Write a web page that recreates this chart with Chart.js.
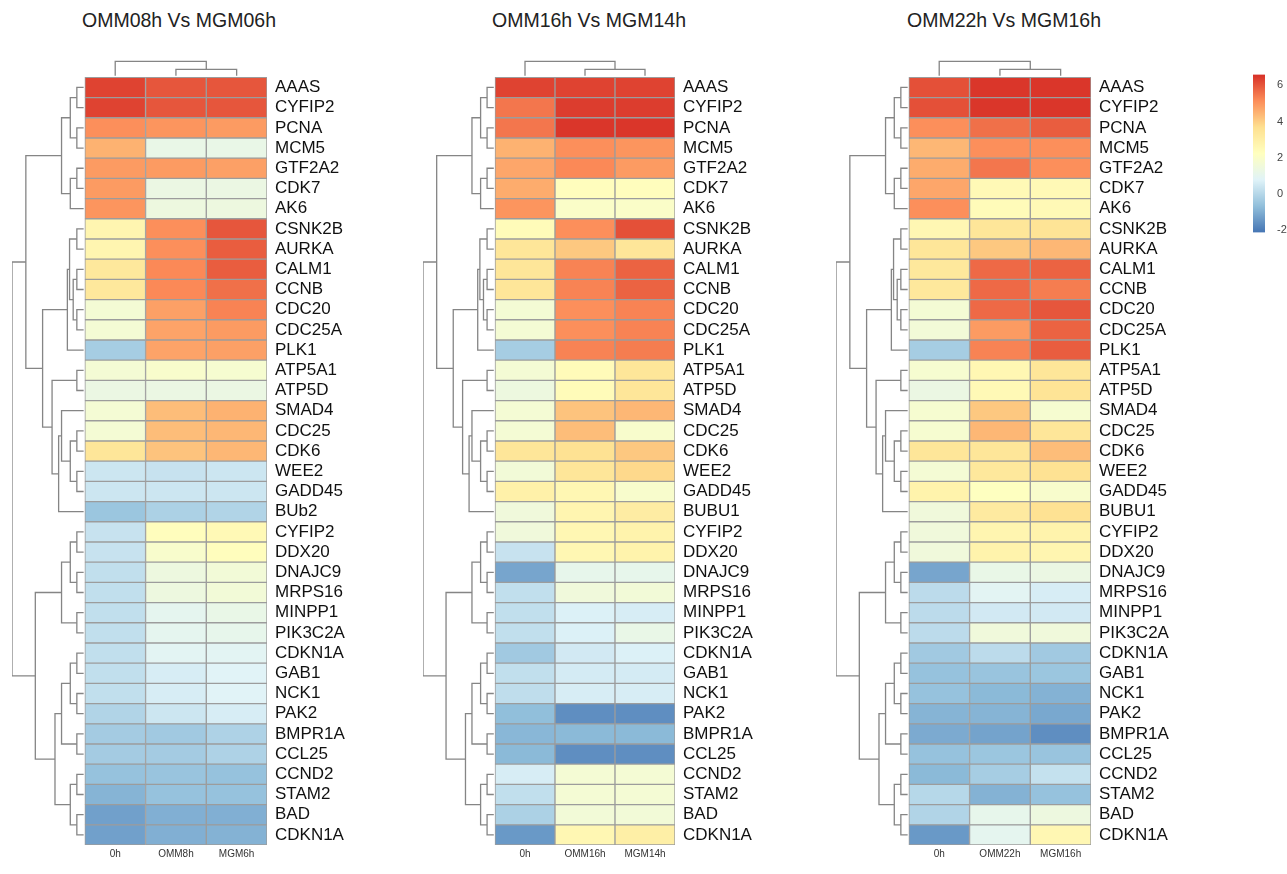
<!DOCTYPE html>
<html>
<head>
<meta charset="utf-8">
<script src="https://cdn.jsdelivr.net/npm/chart.js@4.4.1/dist/chart.umd.min.js"></script>
<style>
  html, body { margin: 0; padding: 0; background: #fff; width: 1287px; height: 874px; overflow: hidden; }
  .wrap { position: absolute; left: 0; top: 0; }
  .title { position: absolute; top: 10px; font-family: "Liberation Sans", Arial, sans-serif; font-size: 19.5px; line-height: 20px; color: #222; white-space: nowrap; }
</style>
</head>
<body>
<div class="title" style="left:82px">OMM08h Vs MGM06h</div>
<div class="title" style="left:492px">OMM16h Vs MGM14h</div>
<div class="title" style="left:907px">OMM22h Vs MGM16h</div>
<div class="wrap" id="w1"><canvas id="c1"></canvas></div>
<div class="wrap" id="w2"><canvas id="c2"></canvas></div>
<div class="wrap" id="w3"><canvas id="c3"></canvas></div>
<div class="wrap" id="w4"><canvas id="c4"></canvas></div>
<script>
/* ===== DATA ===== */
const genes1 = ['AAAS','CYFIP2','PCNA','MCM5','GTF2A2','CDK7','AK6','CSNK2B','AURKA','CALM1','CCNB','CDC20','CDC25A','PLK1',
  'ATP5A1','ATP5D','SMAD4','CDC25','CDK6','WEE2','GADD45','BUb2','CYFIP2','DDX20','DNAJC9','MRPS16','MINPP1','PIK3C2A',
  'CDKN1A','GAB1','NCK1','PAK2','BMPR1A','CCL25','CCND2','STAM2','BAD','CDKN1A'];
const genes23 = ['AAAS','CYFIP2','PCNA','MCM5','GTF2A2','CDK7','AK6','CSNK2B','AURKA','CALM1','CCNB','CDC20','CDC25A','PLK1',
  'ATP5A1','ATP5D','SMAD4','CDC25','CDK6','WEE2','GADD45','BUBU1','CYFIP2','DDX20','DNAJC9','MRPS16','MINPP1','PIK3C2A',
  'CDKN1A','GAB1','NCK1','PAK2','BMPR1A','CCL25','CCND2','STAM2','BAD','CDKN1A'];

const cols1 = ['0h', 'OMM8h', 'MGM6h'];
const cols2 = ['0h', 'OMM16h', 'MGM14h'];
const cols3 = ['0h', 'OMM22h', 'MGM16h'];

// panel 1: OMM08h Vs MGM06h
const p1_0h  = [6.3,6.3,5.1,4.5,4.9,4.9,5.0,2.7,2.7,3.3,3.3,1.7,1.7,-0.3,1.7,1.3,1.7,1.7,3.4,0.4,0.4,-0.5,0.3,0.3,0.2,0.2,0.2,0.2,0.2,0.2,0.2,-0.1,-0.35,-0.35,-0.6,-0.9,-1.3,-1.3];
const p1_omm = [6.0,6.0,5.0,1.2,4.9,1.3,1.4,5.1,5.1,5.2,5.2,4.8,4.75,4.75,1.9,1.3,4.3,4.3,4.2,0.3,0.4,-0.2,2.3,1.9,1.4,1.4,1.0,1.0,0.9,0.6,0.6,0.4,-0.4,-0.35,-0.55,-0.6,-1.0,-1.0];
const p1_mgm = [6.0,6.0,4.9,1.2,4.8,1.3,1.4,6.0,5.9,5.9,5.6,5.3,4.9,4.8,1.8,1.3,4.5,4.4,4.4,0.4,0.4,-0.1,2.5,2.3,1.6,1.6,1.2,1.1,0.9,0.8,0.8,0.6,-0.15,-0.15,-0.6,-0.6,-1.0,-0.95];

// panel 2: OMM16h Vs MGM14h
const p2_0h  = [6.3,5.5,5.5,4.5,4.7,4.6,5.0,2.4,3.4,3.4,3.4,1.7,1.7,-0.3,1.7,1.4,1.7,1.7,3.4,1.6,2.9,1.5,1.5,0.3,-1.2,0.2,0.2,0.2,-0.4,0.2,0.15,-0.7,-0.85,-0.8,0.6,0.2,-0.2,-1.45];
const p2_omm = [6.3,6.4,6.5,5.1,5.2,2.3,2.0,5.1,4.1,5.3,5.3,5.1,5.1,5.3,2.4,2.4,4.2,4.3,3.6,3.4,2.6,2.7,2.6,2.6,1.1,1.5,0.7,0.7,0.5,0.55,0.6,-1.65,-0.8,-1.65,1.7,1.7,1.6,2.6];
const p2_mgm = [6.3,6.4,6.5,5.0,4.9,2.3,2.0,6.1,3.4,5.8,5.8,5.3,5.3,5.4,3.4,3.4,4.4,1.9,4.1,3.8,1.9,3.1,2.8,2.8,1.1,1.6,0.6,1.2,0.7,0.55,0.6,-1.65,-0.8,-1.65,1.7,1.7,1.6,3.0];

// panel 3: OMM22h Vs MGM16h
const p3_0h  = [6.1,6.1,5.1,4.4,4.6,4.7,5.1,2.6,3.4,3.3,3.3,1.7,1.6,-0.3,1.8,1.3,1.8,1.8,3.4,1.7,2.8,1.5,1.5,1.5,-1.2,0.1,0.1,0.1,-0.4,-0.6,-0.6,-0.9,-1.1,-0.6,-0.8,0.0,-0.1,-1.45];
const p3_omm = [6.5,6.5,5.6,5.1,5.5,2.5,2.4,3.4,4.1,5.7,5.7,5.7,4.9,5.3,2.6,2.5,4.1,4.4,3.4,3.3,2.2,3.2,2.7,2.8,1.2,0.9,0.5,1.5,0.1,-0.55,-0.8,-0.9,-1.25,-0.5,-0.3,-0.95,1.1,1.0];
const p3_mgm = [6.5,6.5,5.9,5.1,5.1,2.5,2.5,3.5,4.4,5.8,5.4,6.0,5.8,5.9,3.4,3.5,1.8,3.4,4.3,3.6,1.9,3.6,2.8,2.7,1.3,0.6,0.5,1.5,-0.4,-0.5,-0.95,-1.15,-1.65,-0.55,0.25,-0.6,1.4,2.6];

// row clustering (merge height, left, right); leaves are row indices
const rowTree = [10,
  [8.1,
    [3.2, [2.0, [1.1, 0, 1], [1.1, 2, 3]], [2.0, [1.1, 4, 5], 6]],
    [5.8,
      [2.4, [2.1, [1.1, 7, 8], [1.6, [1.1, 9, 10], [1.1, 11, 12]]], 13],
      [4.5, [1.1, 14, 15], [3.6, [3.2, 16, [2.0, [1.1, 17, 18], [1.1, 19, 20]]], 21]]]],
  [6.8,
    [3.2, [2.0, [1.1, 22, 23], [1.1, 24, 25]], [1.1, 26, 27]],
    [4.1, [3.2, [2.0, [1.1, 28, 29], [1.1, 30, 31]], [1.1, 32, 33]], [2.0, [1.1, 34, 35], [1.1, 36, 37]]]]];
// column clustering
const colTree = [0.79, 0, [0.4, 1, 2]];

const cbTicks = [6, 4, 2, 0, -2];

/* ===== STYLE ===== */
const FONT = '"Liberation Sans", Arial, Helvetica, sans-serif';
const PALETTE = ['#4575B4','#91BFDB','#E0F3F8','#FFFFBF','#FEE090','#FC8D59','#D73027'];
const VMIN = -2.15, VMAX = 6.6;
const ROOT_H = 10, DENDRO_W = 1.2, LEAF_GAP = 0.02, COL_GAP = 0.08;
const LINE = '#858585';

function hexRgb(h) { return [1, 3, 5].map(i => parseInt(h.slice(i, i + 2), 16)); }
function heatColor(v) {
  const t = Math.min(1, Math.max(0, (v - VMIN) / (VMAX - VMIN))) * (PALETTE.length - 1);
  const i = Math.min(PALETTE.length - 2, Math.floor(t)), f = t - i;
  const a = hexRgb(PALETTE[i]), b = hexRgb(PALETTE[i + 1]);
  return 'rgb(' + a.map((c, k) => Math.round(c + (b[k] - c) * f)).join(',') + ')';
}

function layoutTree(node, segs) {
  if (typeof node === 'number') return { pos: node + 0.5, h: 0 };
  const [h, l, r] = node;
  const a = layoutTree(l, segs), b = layoutTree(r, segs);
  segs.push([[a.h, a.pos], [h, a.pos], [h, b.pos], [b.h, b.pos]]);
  return { pos: (a.pos + b.pos) / 2, h };
}

function lineSet(points) {
  return { type: 'line', data: points, borderColor: LINE, borderWidth: 1.3, pointRadius: 0,
           tension: 0, fill: false, clip: false, borderCapStyle: 'butt', order: 0 };
}

/* ===== PANEL ===== */
function panelConfig(genes, cols, series) {
  const cells = [], colors = [];
  series.forEach((col, c) => col.forEach((v, r) => { cells.push({ x: [c, c + 1], y: r + 0.5 }); colors.push(heatColor(v)); }));
  const datasets = [{
    type: 'bar', indexAxis: 'y', data: cells, backgroundColor: colors,
    borderColor: '#9c9c9c', borderWidth: 1, borderSkipped: false,
    barPercentage: 1, categoryPercentage: 1, order: 1
  }];
  const rs = [];
  layoutTree(rowTree, rs);
  const hx = h => h === 0 ? -LEAF_GAP : -h / ROOT_H * DENDRO_W;
  rs.forEach(s => datasets.push(lineSet(s.map(([h, y]) => ({ x: hx(h), y })))));
  const cs = [];
  layoutTree(colTree, cs);
  const hy = h => h === 0 ? -COL_GAP : -h;
  cs.forEach(s => datasets.push(lineSet(s.map(([h, x]) => ({ x, y: hy(h) })))));

  return {
    type: 'bar',
    data: { datasets },
    options: {
      responsive: false, animation: false, events: [],
      layout: { padding: 0 },
      plugins: { legend: { display: false }, tooltip: { enabled: false } },
      scales: {
        x: {
          type: 'linear', min: -DENDRO_W, max: 3, bounds: 'data', offset: false,
          grid: { display: false, drawTicks: false }, border: { display: false },
          afterBuildTicks: s => { s.ticks = cols.map((_, i) => ({ value: i + 0.5 })); },
          ticks: { autoSkip: false, maxRotation: 0, padding: 3, color: '#333', font: { family: FONT, size: 10 },
                   callback: (v, i) => cols[i] },
          afterFit: s => { s.height = 22; }
        },
        y: {
          type: 'linear', reverse: true, min: -0.85, max: genes.length, bounds: 'data', offset: false, position: 'right',
          grid: { display: false, drawTicks: false }, border: { display: false },
          afterBuildTicks: s => { s.ticks = genes.map((_, i) => ({ value: i + 0.5 })); },
          ticks: { autoSkip: false, padding: 8, color: '#111', font: { family: FONT, size: 17 },
                   callback: (v, i) => genes[i] },
          afterFit: s => { s.width = 100; }
        }
      }
    }
  };
}

function colorbarConfig() {
  return {
    type: 'bar',
    data: {
      labels: [''],
      datasets: [{
        data: [[VMIN, VMAX]], borderWidth: 0, barPercentage: 1, categoryPercentage: 1,
        backgroundColor: ctx => {
          const chart = ctx.chart;
          if (!chart.chartArea) return PALETTE[3];
          const ys = chart.scales.y;
          const g = chart.ctx.createLinearGradient(0, ys.getPixelForValue(VMIN), 0, ys.getPixelForValue(VMAX));
          PALETTE.forEach((c, i) => g.addColorStop(i / (PALETTE.length - 1), c));
          return g;
        }
      }]
    },
    options: {
      responsive: false, animation: false, events: [],
      plugins: { legend: { display: false }, tooltip: { enabled: false } },
      scales: {
        x: { display: false },
        y: {
          min: VMIN, max: VMAX, bounds: 'data', position: 'right',
          grid: { display: false, drawTicks: false }, border: { display: false },
          afterBuildTicks: s => { s.ticks = cbTicks.map(v => ({ value: v })); },
          ticks: { autoSkip: false, padding: 12, color: '#444', font: { family: FONT, size: 11 },
                   callback: v => String(v) },
          afterFit: s => { s.width = 30; }
        }
      }
    }
  };
}

// build a chart so that its plot area lands on the target box
function placeChart(id, makeConfig, box) {
  const canvas = document.getElementById('c' + id);
  let w = Math.round(box.w + 110), h = Math.round(box.h + 40), chart;
  for (let pass = 0; pass < 4; pass++) {
    canvas.width = w; canvas.height = h;
    chart = new Chart(canvas, makeConfig());
    const ca = chart.chartArea;
    const dw = box.w - (ca.right - ca.left), dh = box.h - (ca.bottom - ca.top);
    if (Math.abs(dw) < 0.5 && Math.abs(dh) < 0.5) break;
    chart.destroy();
    w = Math.round(w + dw); h = Math.round(h + dh);
  }
  const ca = chart.chartArea;
  const wrap = document.getElementById('w' + id);
  wrap.style.left = (box.x - ca.left) + 'px';
  wrap.style.top = (box.y - ca.top) + 'px';
  return chart;
}

/* ===== INIT ===== */
const TOP = 77 - 0.85 * 20.21, HEIGHT = 845 - TOP;
placeChart(1, () => panelConfig(genes1, cols1, [p1_0h, p1_omm, p1_mgm]), { x: 12.2, y: TOP, w: 254.8, h: HEIGHT });
placeChart(2, () => panelConfig(genes23, cols2, [p2_0h, p2_omm, p2_mgm]), { x: 423, y: TOP, w: 252, h: HEIGHT });
placeChart(3, () => panelConfig(genes23, cols3, [p3_0h, p3_omm, p3_mgm]), { x: 836.2, y: TOP, w: 254.8, h: HEIGHT });
placeChart(4, colorbarConfig, { x: 1252.5, y: 75, w: 12, h: 158 });
</script>
</body>
</html>
